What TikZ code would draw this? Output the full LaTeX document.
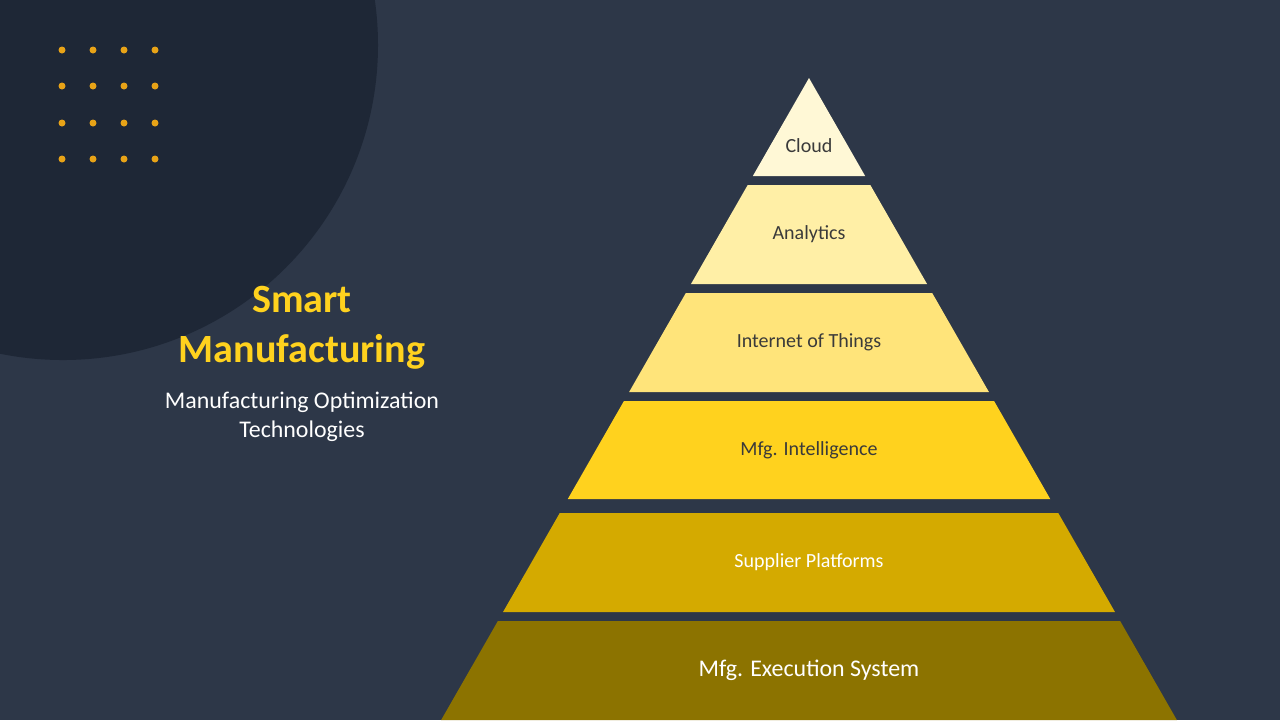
\documentclass[tikz,border=0pt]{standalone}
\usepackage{fontspec}
\setmainfont{Carlito}
\definecolor{bg}{HTML}{2D3748}
\definecolor{circ}{HTML}{1E2736}
\definecolor{dotc}{HTML}{E8A317}
\definecolor{gold}{HTML}{FFD21E}
\definecolor{cA}{HTML}{FFF8D6}
\definecolor{cB}{HTML}{FFEFA6}
\definecolor{cC}{HTML}{FFE47A}
\definecolor{cD}{HTML}{FFD21E}
\definecolor{cE}{HTML}{D4AA00}
\definecolor{cF}{HTML}{8C7300}
\definecolor{dtext}{HTML}{3A3A3A}
\tikzset{lbl/.style={font=\fontsize{5.7pt}{7pt}\selectfont,text=dtext},
 wlbl/.style={lbl,text=white}}
\newcommand{\mylayer}[4]{% top y, bottom y, color, name
  \pgfmathsetmacro{\tw}{0.573*(#1-78)}\pgfmathsetmacro{\bw}{0.573*(#2-78)}
  \fill[#3] (809-\tw,#1) -- (809+\tw,#1) -- (809+\bw,#2) -- (809-\bw,#2) -- cycle;
  \coordinate (#4) at (809,{(#1+#2)/2});}
\begin{document}
\begin{tikzpicture}[x=0.01cm,y=-0.01cm]
\fill[bg] (0,0) rectangle (1280,720);
\begin{scope}
\clip (0,0) rectangle (1280,720);
\fill[circ] (63,45) circle (315);
\end{scope}
\foreach \x in {62,93,124,155}\foreach \y in {50,86,123,159}\fill[dotc] (\x,\y) circle (3.5);
\node[text=gold,font=\fontsize{11.4pt}{14.3pt}\selectfont\bfseries,align=center] (title) at (302,328) {Smart\\Manufacturing};
\node[text=white,font=\fontsize{6.8pt}{8.3pt}\selectfont,align=center] (sub) at (302,417) {Manufacturing Optimization\\Technologies};
\mylayer{78}{176}{cA}{l1}
\mylayer{185}{284}{cB}{l2}
\mylayer{293}{392}{cC}{l3}
\mylayer{401}{499}{cD}{l4}
\mylayer{513}{612}{cE}{l5}
\mylayer{621}{720}{cF}{l6}
\node[lbl] (t1) at ([yshift=-5.4pt]l1) {Cloud};
\node[lbl] (t2) at (l2) {Analytics};
\node[lbl] (t3) at (l3) {Internet of Things};
\node[lbl] (t4) at (l4) {Mfg. Intelligence};
\node[wlbl] (t5) at (l5) {Supplier Platforms};
\node[wlbl,font=\fontsize{6.8pt}{8pt}\selectfont] (t6) at (l6) {Mfg. Execution System};
\end{tikzpicture}
\end{document}
